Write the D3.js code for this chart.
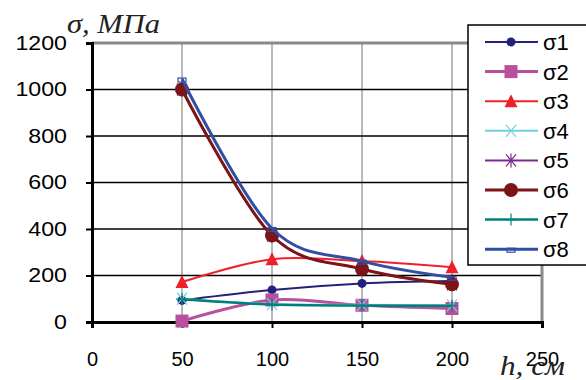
<!DOCTYPE html>
<html>
<head>
<meta charset="utf-8">
<script src="https://cdn.jsdelivr.net/npm/d3@7"></script>
<style>
	body{margin:0;background:#fff}
	svg{display:block}
</style>
</head>
<body>
<div id="chart"></div>
<script>
// h, cm
var heights = [50, 100, 150, 200]
var xTicks = [0, 50, 100, 150, 200, 250]
var yTicks = [0, 200, 400, 600, 800, 1000, 1200]

var seriesNames = ["σ1","σ2","σ3","σ4","σ5","σ6","σ7","σ8"]
var s1 = [93, 138, 166, 176]
var s2 = [4, 95, 72, 58]
var s3 = [172, 270, 262, 236]
var s4 = [100, 77, 74, 72]
var s5 = [1000, 372, 228, 162]
var s6 = [1000, 372, 228, 162]
var s7 = [98, 75, 71, 70]
var s8 = [1045, 402, 262, 192]
var seriesValues = [s1,s2,s3,s4,s5,s6,s7,s8]

var colours = ["#22227a","#b8509e","#f0202a","#70d0e0","#7a2c8c","#7c1418","#00807a","#2f4fa2"]
var widths = [2, 3, 2, 2, 2, 3, 2.5, 3]
var markers = ["dot","square","triangle","cross","star","circle","plus","dash"]

var W = 586, H = 380
var svg = d3.select("#chart").append("svg").attr("width",W).attr("height",H)

var x = d3.scaleLinear().domain([0,250]).range([92,542])
var y = d3.scaleLinear().domain([0,1200]).range([322,43])

// grid
svg.append("g").selectAll("line").data(heights).join("line")
	.attr("x1",d=>x(d)).attr("x2",d=>x(d))
	.attr("y1",y(1200)).attr("y2",y(0))
	.attr("stroke","#8a8a8a").attr("stroke-width",1.2)
svg.append("g").selectAll("line").data(yTicks.filter(v=>v>0 && v<1200)).join("line")
	.attr("x1",x(0)).attr("x2",x(250))
	.attr("y1",d=>y(d)).attr("y2",d=>y(d))
	.attr("stroke","#000").attr("stroke-width",1.5)
svg.append("line").attr("x1",x(0)).attr("x2",x(250)).attr("y1",y(1200)).attr("y2",y(1200))
	.attr("stroke","#8a8a8a").attr("stroke-width",3)
svg.append("line").attr("x1",x(250)).attr("x2",x(250)).attr("y1",y(1200)).attr("y2",y(0))
	.attr("stroke","#8a8a8a").attr("stroke-width",3)

// axes
var yAxis = svg.append("g").attr("transform",`translate(${x(0)},0)`)
	.call(d3.axisLeft(y).tickValues(yTicks).tickFormat(d3.format("d")).tickSize(6).tickPadding(19))
var xAxis = svg.append("g").attr("transform",`translate(0,${y(0)})`)
	.call(d3.axisBottom(x).tickValues(xTicks).tickFormat(d3.format("d")).tickSize(6).tickPadding(24))
;[yAxis,xAxis].forEach(a=>{
	a.select(".domain").attr("stroke","#000").attr("stroke-width",3)
	a.selectAll(".tick line").attr("stroke","#000").attr("stroke-width",2)
	a.selectAll("text").attr("fill","#000")
		.style("font-family","'Liberation Sans', Arial, sans-serif").style("font-size","20px")
})
yAxis.selectAll("text").attr("textLength",d=>String(d).length*12.9).attr("lengthAdjust","spacingAndGlyphs")

// marker shapes
function drawMarker(g, kind, colour, cx, cy){
	if(kind=="dot"){
		g.append("circle").attr("cx",cx).attr("cy",cy).attr("r",4.5).attr("fill",colour)
	} else if(kind=="circle"){
		g.append("circle").attr("cx",cx).attr("cy",cy).attr("r",7).attr("fill",colour)
	} else if(kind=="square"){
		g.append("rect").attr("x",cx-6.5).attr("y",cy-6.5).attr("width",13).attr("height",13).attr("fill",colour)
	} else if(kind=="triangle"){
		g.append("path").attr("d",`M${cx},${cy-7}L${cx+6.5},${cy+6}L${cx-6.5},${cy+6}Z`).attr("fill",colour)
	} else if(kind=="cross"){
		g.append("path").attr("d",`M${cx-5},${cy-6}L${cx+5},${cy+6}M${cx-5},${cy+6}L${cx+5},${cy-6}`)
			.attr("stroke",colour).attr("stroke-width",1.2)
	} else if(kind=="star"){
		g.append("path").attr("d",`M${cx-5},${cy-6}L${cx+5},${cy+6}M${cx-5},${cy+6}L${cx+5},${cy-6}M${cx},${cy-7}L${cx},${cy+7}`)
			.attr("stroke",colour).attr("stroke-width",1.2)
	} else if(kind=="plus"){
		g.append("path").attr("d",`M${cx-6},${cy}L${cx+6},${cy}M${cx},${cy-6}L${cx},${cy+6}`)
			.attr("stroke",colour).attr("stroke-width",1.2)
	} else if(kind=="dash"){
		g.append("rect").attr("x",cx-4).attr("y",cy-1).attr("width",8).attr("height",4)
			.attr("fill","none").attr("stroke",colour).attr("stroke-width",1.2)
	}
}

// series
var lineGen = d3.line().x(d=>x(d[0])).y(d=>y(d[1])).curve(d3.curveCardinal.tension(0))
seriesNames.forEach((name,i)=>{
	var pts = heights.map((h,j)=>[h,seriesValues[i][j]])
	var g = svg.append("g").attr("class",`series s${i+1}`)
	g.append("path").datum(pts).attr("d",lineGen)
		.attr("fill","none").attr("stroke",colours[i]).attr("stroke-width",widths[i])
	pts.forEach(p=>drawMarker(g, markers[i], colours[i], x(p[0]), y(p[1])))
})

// axis titles
svg.append("text").attr("x",67).attr("y",33).text("σ, МПа")
	.attr("textLength",93).attr("lengthAdjust","spacingAndGlyphs")
	.style("font-family","'Liberation Serif', 'Times New Roman', serif")
	.style("font-style","italic").style("font-size","27px").attr("fill","#222")
svg.append("text").attr("x",500).attr("y",375).text("h, см")
	.attr("textLength",65).attr("lengthAdjust","spacingAndGlyphs")
	.style("font-family","'Liberation Serif', 'Times New Roman', serif")
	.style("font-style","italic").style("font-size","27px").attr("fill","#222")

// legend
var legend = svg.append("g")
legend.append("rect").attr("x",468).attr("y",25).attr("width",140).attr("height",240)
	.attr("fill","#fff").attr("stroke","#000").attr("stroke-width",1.5)
seriesNames.forEach((name,i)=>{
	var ly = 42 + i*29.6
	legend.append("line").attr("x1",485).attr("x2",538).attr("y1",ly).attr("y2",ly)
		.attr("stroke",colours[i]).attr("stroke-width",widths[i])
	drawMarker(legend, markers[i], colours[i], 511, ly)
	legend.append("text").attr("x",543).attr("y",ly).attr("dy","0.36em").text(name)
		.style("font-family","'Liberation Sans', Arial, sans-serif").style("font-size","22px")
		.attr("fill","#000")
})
</script>
</body>
</html>
